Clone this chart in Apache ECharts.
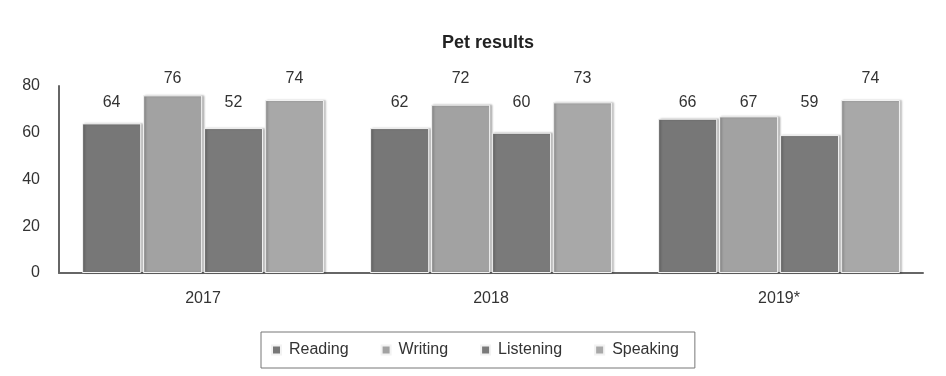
<!DOCTYPE html>
<html>
<head>
<meta charset="utf-8">
<script src="https://cdn.jsdelivr.net/npm/echarts@6/dist/echarts.min.js"></script>
<style>
html,body{margin:0;padding:0;background:#fff;}
#c{width:946px;height:376px;}
</style>
</head>
<body>
<div id="c"></div>
<script>
const categories = ['2017', '2018', '2019*'];
const seriesNames = ['Reading', 'Writing', 'Listening', 'Speaking'];
// bar heights as drawn
const reading = [64, 62, 66];
const writing = [76, 72, 67];
const listening = [62, 60, 59];
const speaking = [74, 73, 74];
// printed value labels
const readingLabels = ['64', '62', '66'];
const writingLabels = ['76', '72', '67'];
const listeningLabels = ['52', '60', '59'];
const speakingLabels = ['74', '73', '74'];
const yTicks = [0, 20, 40, 60, 80];

const colors = ['#777777', '#a2a2a2', '#7a7a7a', '#a8a8a8'];
const values = [reading, writing, listening, speaking];
const labels = [readingLabels, writingLabels, listeningLabels, speakingLabels];
const FONT = 'Liberation Sans, Arial, sans-serif';

const chart = echarts.init(document.getElementById('c'));

function buildSeries(offsets) {
  return seriesNames.map((name, si) => ({
    name: name,
    type: 'bar',
    barGap: '3%',
    barCategoryGap: '16%',
    itemStyle: {
      color: colors[si],
      borderColor: '#f2f2f2',
      borderWidth: 1,
      shadowColor: 'rgba(0,0,0,0.25)',
      shadowBlur: 2,
      shadowOffsetX: 2
    },
    label: {
      show: true,
      position: 'top',
      color: '#333',
      fontSize: 16,
      fontFamily: FONT,
      formatter: p => labels[si][p.dataIndex]
    },
    data: values[si].map((v, i) => ({
      value: v,
      label: { offset: [0, offsets ? offsets[si][i] : 0] }
    }))
  }));
}

const option = {
  backgroundColor: '#fff',
  animation: false,
  title: {
    text: 'Pet results',
    left: 483,
    textAlign: 'center',
    top: 29,
    textStyle: { fontSize: 18, fontWeight: 'bold', color: '#222', fontFamily: FONT }
  },
  legend: {
    bottom: 8,
    left: 261,
    itemWidth: 9,
    itemHeight: 9,
    itemGap: 32,
    padding: [10, 16, 10, 10],
    borderColor: '#777',
    borderWidth: 1,
    icon: 'rect',
    textStyle: { fontSize: 16, color: '#333', fontFamily: FONT, padding: [0, 0, 0, 3] },
    data: seriesNames
  },
  grid: { left: 59, right: 23, top: 86, bottom: 103 },
  xAxis: {
    type: 'category',
    data: categories,
    axisLine: { lineStyle: { color: '#666', width: 2 } },
    axisTick: { show: false },
    axisLabel: { fontSize: 16, color: '#333', margin: 18, fontFamily: FONT }
  },
  yAxis: {
    type: 'value',
    min: yTicks[0],
    max: yTicks[yTicks.length - 1],
    interval: 20,
    axisLine: { show: true, lineStyle: { color: '#666', width: 2 } },
    axisTick: { show: false },
    splitLine: { show: false },
    axisLabel: { fontSize: 16, color: '#333', margin: 19, fontFamily: FONT }
  },
  series: buildSeries(null)
};
chart.setOption(option);

// Place value labels on two rows as in the original (lower row unless bar is too tall)
const lowRow = chart.convertToPixel({ yAxisIndex: 0 }, 73.5);
const highRow = chart.convertToPixel({ yAxisIndex: 0 }, 83.5);
const offsets = values.map(arr => arr.map(v => {
  const top = chart.convertToPixel({ yAxisIndex: 0 }, v);
  const defaultY = top - 5 - 9;
  const target = (top - lowRow) < 12 ? highRow : lowRow;
  return target - defaultY;
}));
chart.setOption({ series: buildSeries(offsets) });
</script>
</body>
</html>
